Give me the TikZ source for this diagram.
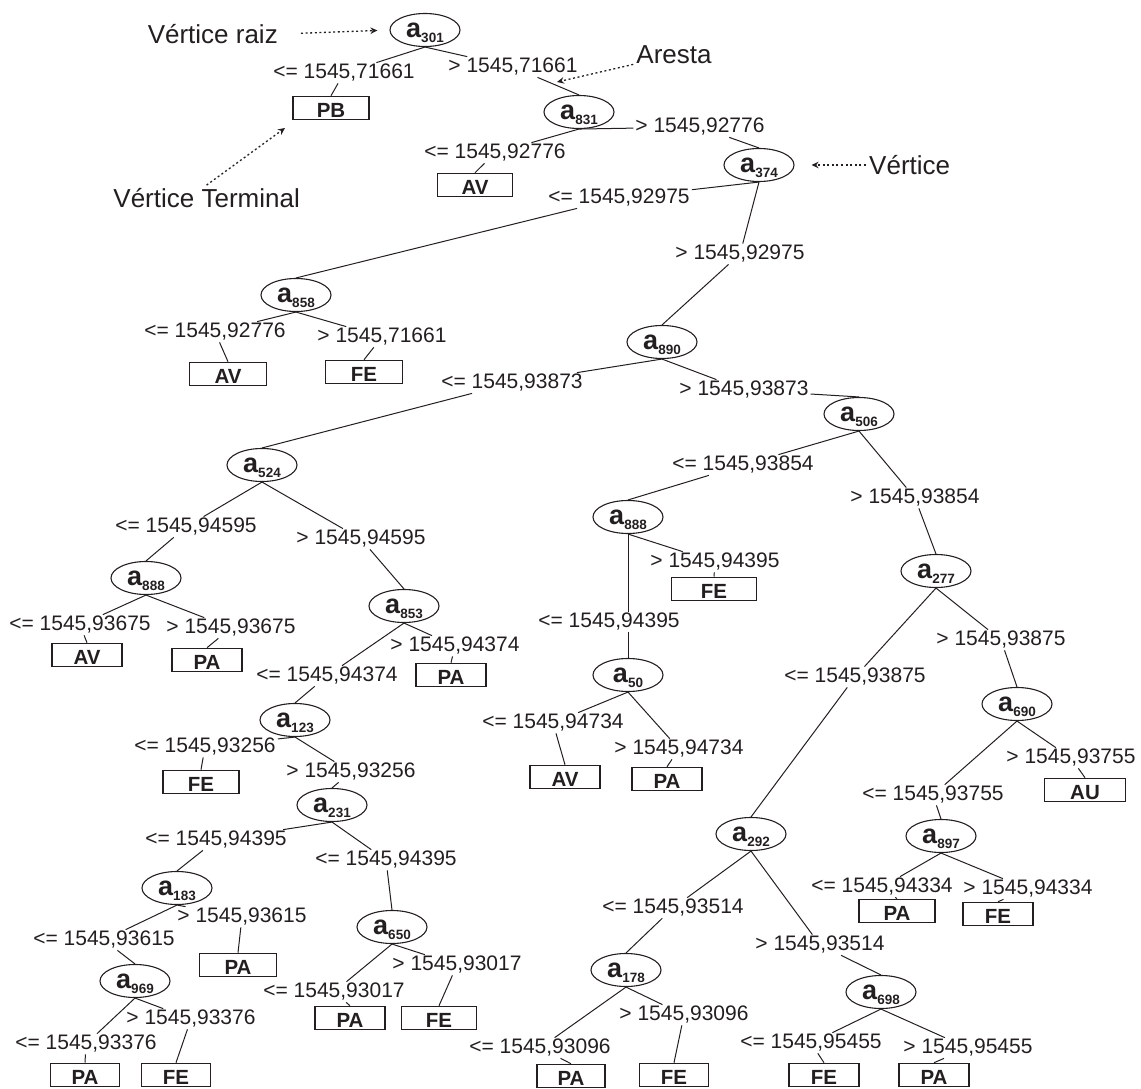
\documentclass[tikz,border=0pt]{standalone}
\usepackage{fontspec}
\setmainfont{Liberation Sans}
\usetikzlibrary{arrows.meta,shapes.geometric}
\definecolor{ink}{RGB}{35,31,32}
% vertex label: bold "a" with a lowered, smashed index
\newcommand\va[1]{{\fontsize{27}{27}\selectfont\bfseries a}\raisebox{-5.5pt}[0pt][0pt]{\fontsize{13.5}{13.5}\selectfont\bfseries #1}}
% branch: parent -> condition text -> child
\newcommand\edg[3]{\draw[branch] (#1.south) -- (#2) -- (#3.north);}
\tikzset{
  vert/.style={ellipse, draw=ink, line width=1.1pt, minimum width=70pt, minimum height=33pt, inner sep=0pt, text=ink},
  leaf/.style={rectangle, draw=ink, line width=1.1pt, minimum width=#1, minimum height=23.5pt, inner sep=0pt, text height=19.7pt, text depth=0pt, text=ink, font=\fontsize{20.5}{21}\selectfont\bfseries},
  leaf/.default=72pt,
  cond/.style={inner xsep=2pt, inner ysep=1.5pt, text=ink, font=\fontsize{21}{22}\selectfont},
  note/.style={inner sep=3pt, text=ink, font=\fontsize{26}{28}\selectfont},
  branch/.style={draw=ink, line width=1pt},
  pointer/.style={draw=ink, line width=1.3pt, dash pattern=on 2pt off 2.6pt, -{Stealth[length=7pt,width=6.5pt]}},
}
\begin{document}
\begin{tikzpicture}[x=1pt,y=-1pt]
\useasboundingbox (0,0) rectangle (1141,1089);

% ---- inner vertices
\node[vert] (a301) at (425,30)  {\va{301}};
\node[vert] (a831) at (579,112) {\va{831}};
\node[vert] (a374) at (759,165) {\va{374}};
\node[vert] (a858) at (296,295) {\va{858}};
\node[vert] (a890) at (662,342) {\va{890}};
\node[vert] (a506) at (859,414) {\va{506}};
\node[vert] (a524) at (262,465) {\va{524}};
\node[vert] (m888) at (628,517) {\va{888}};
\node[vert] (a277) at (936,571) {\va{277}};
\node[vert] (b888) at (146,578) {\va{888}};
\node[vert] (a853) at (404,606) {\va{853}};
\node[vert] (a50)  at (628,675) {\va{50}};
\node[vert] (a690) at (1017,704) {\va{690}};
\node[vert] (a123) at (295,720) {\va{123}};
\node[vert] (a231) at (332,805) {\va{231}};
\node[vert] (a292) at (751,834) {\va{292}};
\node[vert] (a897) at (941,836) {\va{897}};
\node[vert] (a183) at (177,888) {\va{183}};
\node[vert] (a650) at (392,927) {\va{650}};
\node[vert] (a178) at (626,970) {\va{178}};
\node[vert] (a969) at (135,981) {\va{969}};
\node[vert] (a698) at (881,992) {\va{698}};

% ---- terminal vertices
\node[leaf=76pt] (pb)  at (331,108)  {PB};
\node[leaf=75pt] (av1) at (475,185)  {AV};
\node[leaf=77pt] (av2) at (228,374)  {AV};
\node[leaf=77pt] (fe2) at (364,372)  {FE};
\node[leaf=85pt] (fe6) at (714,589)  {FE};
\node[leaf=70pt] (av3) at (87,655)   {AV};
\node[leaf=70pt] (pa1) at (207,660)  {PA};
\node[leaf=70pt] (pa2) at (451,675)  {PA};
\node[leaf=76pt] (fe3) at (201,782)  {FE};
\node[leaf=70pt] (av4) at (565,777)  {AV};
\node[leaf=70pt] (pa6) at (667,779)  {PA};
\node[leaf=81pt] (au)  at (1085,790) {AU};
\node[leaf=76pt] (pa7) at (897,911)  {PA};
\node[leaf=70pt] (fe7) at (998,914)  {FE};
\node[leaf=77pt] (pa3) at (238,965)  {PA};
\node[leaf=70pt] (pa5) at (350,1018) {PA};
\node[leaf=75pt] (fe5) at (439,1018) {FE};
\node[leaf=69pt] (pa4) at (85,1075)  {PA};
\node[leaf=69pt] (fe4) at (176,1075) {FE};
\node[leaf=68pt] (pa8) at (571,1076) {PA};
\node[leaf=69pt] (fe8) at (674,1075) {FE};
\node[leaf=70pt] (fe9) at (824,1075) {FE};
\node[leaf=70pt] (pa9) at (934,1075) {PA};

% ---- split conditions
\node[cond] (c1)  at (344,73)   {<= 1545,71661};
\node[cond] (c2)  at (513,67)   {> 1545,71661};
\node[cond] (c3)  at (495,153)  {<= 1545,92776};
\node[cond] (c4)  at (700,127)  {> 1545,92776};
\node[cond] (c5)  at (619,198)  {<= 1545,92975};
\node[cond] (c6)  at (740,254)  {> 1545,92975};
\node[cond] (c7)  at (215,332)  {<= 1545,92776};
\node[cond] (c8)  at (382,337)  {> 1545,71661};
\node[cond] (c9)  at (512,383)  {<= 1545,93873};
\node[cond] (c10) at (744,390)  {> 1545,93873};
\node[cond] (c11) at (186,527)  {<= 1545,94595};
\node[cond] (c12) at (361,539)  {> 1545,94595};
\node[cond] (c13) at (80,625)   {<= 1545,93675};
\node[cond] (c14) at (231,628)  {> 1545,93675};
\node[cond] (c15) at (327,676)  {<= 1545,94374};
\node[cond] (c16) at (455,646)  {> 1545,94374};
\node[cond] (c17) at (205,747)  {<= 1545,93256};
\node[cond] (c18) at (351,772)  {> 1545,93256};
\node[cond] (c19) at (216,840)  {<= 1545,94395};
\node[cond] (c20) at (386,860)  {<= 1545,94395};
\node[cond] (c21) at (104,940)  {<= 1545,93615};
\node[cond] (c22) at (242,917)  {> 1545,93615};
\node[cond] (c23) at (86,1044)  {<= 1545,93376};
\node[cond] (c24) at (191,1019) {> 1545,93376};
\node[cond] (c25) at (334,992)  {<= 1545,93017};
\node[cond] (c26) at (457,965)  {> 1545,93017};
\node[cond] (c27) at (743,465)  {<= 1545,93854};
\node[cond] (c28) at (915,498)  {> 1545,93854};
\node[cond] (c29) at (609,622)  {<= 1545,94395};
\node[cond] (c30) at (715,562)  {> 1545,94395};
\node[cond] (c31) at (553,723)  {<= 1545,94734};
\node[cond] (c32) at (679,749)  {> 1545,94734};
\node[cond] (c33) at (855,677)  {<= 1545,93875};
\node[cond] (c34) at (1001,640) {> 1545,93875};
\node[cond] (c35) at (933,795)  {<= 1545,93755};
\node[cond] (c36) at (1071,758) {> 1545,93755};
\node[cond] (c37) at (882,887)  {<= 1545,94334};
\node[cond] (c38) at (1028,889) {> 1545,94334};
\node[cond] (c39) at (673,908)  {<= 1545,93514};
\node[cond] (c40) at (820,945)  {> 1545,93514};
\node[cond] (c41) at (540,1048) {<= 1545,93096};
\node[cond] (c42) at (684,1015) {> 1545,93096};
\node[cond] (c43) at (811,1043) {<= 1545,95455};
\node[cond] (c44) at (968,1048) {> 1545,95455};

% ---- branches
\edg{a301}{c1}{pb}
\edg{a301}{c2}{a831}
\edg{a831}{c3}{av1}
\edg{a831}{c4}{a374}
\edg{a374}{c5}{a858}
\edg{a374}{c6}{a890}
\edg{a858}{c7}{av2}
\edg{a858}{c8}{fe2}
\edg{a890}{c9}{a524}
\edg{a890}{c10}{a506}
\edg{a524}{c11}{b888}
\edg{a524}{c12}{a853}
\edg{b888}{c13}{av3}
\edg{b888}{c14}{pa1}
\edg{a853}{c15}{a123}
\edg{a853}{c16}{pa2}
\edg{a123}{c17}{fe3}
\edg{a123}{c18}{a231}
\edg{a231}{c19}{a183}
\edg{a231}{c20}{a650}
\edg{a183}{c21}{a969}
\edg{a183}{c22}{pa3}
\edg{a969}{c23}{pa4}
\edg{a969}{c24}{fe4}
\edg{a650}{c25}{pa5}
\edg{a650}{c26}{fe5}
\edg{a506}{c27}{m888}
\edg{a506}{c28}{a277}
\draw[branch] (m888.south) -- (m888.south |- c29.north);
\draw[branch] (c29.south -| a50.north) -- (a50.north);
\edg{m888}{c30}{fe6}
\edg{a50}{c31}{av4}
\edg{a50}{c32}{pa6}
\edg{a277}{c33}{a292}
\edg{a277}{c34}{a690}
\edg{a690}{c35}{a897}
\edg{a690}{c36}{au}
\edg{a897}{c37}{pa7}
\edg{a897}{c38}{fe7}
\edg{a292}{c39}{a178}
\edg{a292}{c40}{a698}
\edg{a178}{c41}{pa8}
\edg{a178}{c42}{fe8}
\edg{a698}{c43}{fe9}
\edg{a698}{c44}{pa9}

% ---- annotations
\node[note, anchor=east] (raiz) at (281,34) {Vértice raiz};
\node[note] (aresta) at (674,55) {Aresta};
\node[note, anchor=east] (vterm) at (303,198) {Vértice Terminal};
\node[note, anchor=west] (vtx) at (866,165) {Vértice};
\coordinate (arestaTip) at (557,82);
\coordinate (vtermTip) at (285,128);
\draw[pointer, shorten <=20pt, shorten >=12pt] (raiz.east) -- (a301.west);
\draw[pointer] (aresta) -- (arestaTip);
\draw[pointer] (vterm.north) -- (vtermTip);
\draw[pointer, shorten >=17pt] (vtx.west) -- (a374.east);
\end{tikzpicture}
\end{document}
